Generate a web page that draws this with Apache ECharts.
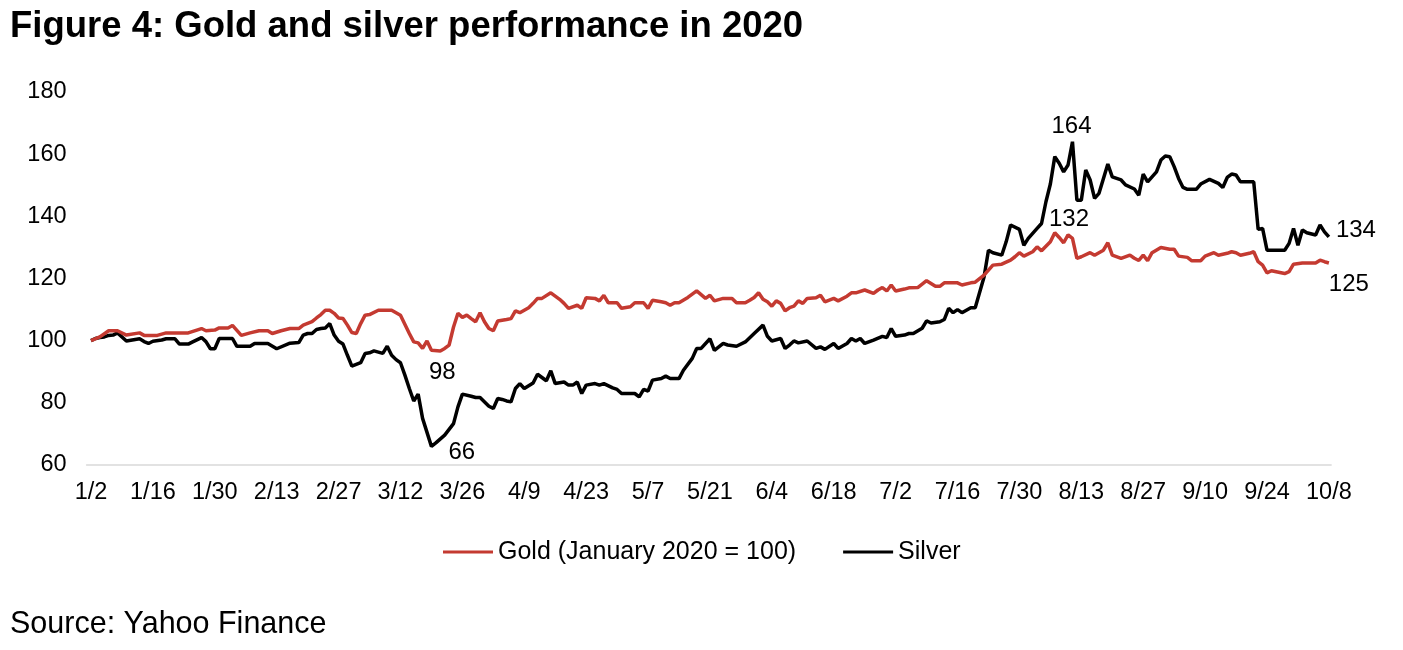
<!DOCTYPE html>
<html>
<head>
<meta charset="utf-8">
<script src="https://cdn.jsdelivr.net/npm/echarts@6/dist/echarts.min.js"></script>
<style>
html,body{margin:0;padding:0;background:#fff;}
#chart{width:1403px;height:650px;}
</style>
</head>
<body>
<div id="chart"></div>
<script>
// ---- data ----
const tickLabels = ['1/2','1/16','1/30','2/13','2/27','3/12','3/26','4/9','4/23','5/7','5/21','6/4','6/18','7/2','7/16','7/30','8/13','8/27','9/10','9/24','10/8'];

const goldDates = ['1/2','1/4','1/6','1/8','1/10','1/13','1/14','1/17','1/19','1/24','1/27','1/28','1/30','1/31','2/2','2/3','2/5','2/7','2/9','2/11','2/12','2/14','2/16','2/18','2/19','2/21','2/22','2/23','2/24','2/25','2/26','2/27','2/28','2/29','3/1','3/2','3/3','3/4','3/5','3/7','3/10','3/12','3/14','3/15','3/16','3/17','3/18','3/19','3/21','3/22','3/23','3/24','3/25','3/26','3/27','3/28','3/29','3/30','3/31','4/1','4/2','4/3','4/5','4/6','4/7','4/8','4/10','4/11','4/12','4/13','4/15','4/17','4/18','4/19','4/21','4/22','4/23','4/25','4/26','4/27','4/28','4/30','5/1','5/3','5/4','5/6','5/7','5/8','5/10','5/11','5/12','5/13','5/14','5/16','5/18','5/20','5/21','5/22','5/24','5/26','5/27','5/29','5/30','5/31','6/1','6/2','6/3','6/4','6/5','6/6','6/7','6/8','6/9','6/10','6/11','6/12','6/14','6/15','6/16','6/18','6/19','6/21','6/22','6/23','6/25','6/27','6/28','6/29','6/30','7/1','7/2','7/4','7/5','7/7','7/9','7/11','7/12','7/13','7/16','7/17','7/19','7/20','7/22','7/23','7/24','7/26','7/28','7/29','7/30','7/31','8/2','8/3','8/4','8/6','8/7','8/8','8/9','8/10','8/11','8/12','8/13','8/15','8/16','8/18','8/19','8/20','8/22','8/24','8/25','8/26','8/27','8/28','8/29','8/31','9/2','9/3','9/4','9/6','9/7','9/9','9/10','9/12','9/13','9/15','9/16','9/17','9/18','9/20','9/21','9/22','9/23','9/24','9/25','9/28','9/29','9/30','10/2','10/5','10/6','10/7','10/8'];
const goldValues = [100.0,101.2,103.2,103.2,101.8,102.5,101.7,101.7,102.5,102.5,103.9,103.2,103.4,104.1,104.1,104.9,101.7,102.5,103.2,103.2,102.3,103.2,103.9,103.9,105.0,106.1,107.3,108.4,109.8,109.8,108.8,107.3,107.1,105.0,102.6,102.3,105.5,108.2,108.4,109.8,109.8,108.2,102.3,99.6,99.3,97.5,99.9,96.9,96.7,97.5,98.6,104.4,108.8,107.5,108.2,107.1,106.1,109.0,106.1,103.9,103.2,106.3,106.8,107.1,109.6,109.0,110.6,112.0,113.6,113.6,115.4,113.3,112.0,110.4,111.4,110.4,113.8,113.6,112.8,114.6,112.2,112.2,110.4,110.9,112.2,112.2,110.4,113.0,112.5,112.2,111.4,112.2,112.2,113.9,116.0,113.6,114.6,112.8,113.6,113.6,112.2,112.2,113.0,113.9,115.4,113.3,112.5,111.1,112.8,112.0,109.6,110.6,111.1,112.8,112.0,113.6,113.8,114.6,112.5,113.6,112.8,114.3,115.4,115.4,116.3,115.2,116.3,117.1,116.0,117.9,116.0,116.6,117.0,117.1,119.3,117.5,117.5,118.6,118.6,117.9,118.6,118.8,121.1,122.7,124.3,124.6,125.9,127.0,128.3,127.2,128.6,130.2,128.9,131.8,134.7,133.2,131.5,134.0,132.9,126.5,127.0,128.3,127.5,129.1,131.5,127.5,126.5,127.5,126.5,125.8,127.5,125.7,128.3,130.0,129.4,129.4,127.2,126.8,125.7,125.7,127.2,128.3,127.5,128.1,128.6,128.3,127.5,128.1,128.6,125.4,124.3,121.8,122.5,121.6,122.2,124.6,125.0,125.0,125.9,125.4,125.0];

const silverDates = ['1/2','1/3','1/4','1/5','1/6','1/7','1/8','1/10','1/12','1/13','1/14','1/15','1/16','1/18','1/19','1/21','1/22','1/24','1/25','1/27','1/28','1/29','1/30','1/31','2/3','2/4','2/7','2/8','2/11','2/13','2/16','2/18','2/19','2/20','2/21','2/22','2/23','2/24','2/25','2/26','2/27','2/28','2/29','3/1','3/3','3/4','3/5','3/6','3/8','3/9','3/10','3/11','3/12','3/13','3/14','3/15','3/16','3/17','3/18','3/19','3/20','3/22','3/24','3/25','3/26','3/28','3/29','3/30','4/1','4/2','4/3','4/4','4/5','4/6','4/7','4/8','4/9','4/11','4/12','4/14','4/15','4/16','4/18','4/19','4/20','4/21','4/22','4/23','4/25','4/26','4/27','4/29','4/30','5/1','5/4','5/5','5/6','5/7','5/8','5/10','5/11','5/12','5/14','5/15','5/17','5/18','5/19','5/21','5/22','5/24','5/25','5/27','5/29','5/31','6/2','6/3','6/4','6/6','6/7','6/8','6/9','6/10','6/12','6/14','6/15','6/16','6/18','6/19','6/21','6/22','6/23','6/24','6/25','6/27','6/29','6/30','7/1','7/2','7/4','7/5','7/6','7/8','7/9','7/10','7/12','7/13','7/14','7/15','7/16','7/17','7/18','7/19','7/20','7/22','7/23','7/24','7/26','7/27','7/28','7/30','7/31','8/1','8/3','8/4','8/5','8/6','8/7','8/8','8/9','8/10','8/11','8/12','8/13','8/14','8/15','8/16','8/17','8/19','8/20','8/22','8/23','8/25','8/26','8/27','8/28','8/30','8/31','9/1','9/2','9/3','9/4','9/5','9/6','9/8','9/9','9/11','9/13','9/14','9/15','9/16','9/17','9/18','9/21','9/22','9/23','9/24','9/28','9/29','9/30','10/1','10/2','10/3','10/5','10/6','10/7','10/8'];
const silverValues = [100.0,100.7,101.0,101.2,101.7,101.8,102.5,99.9,100.4,100.6,99.7,99.1,99.8,100.2,100.6,100.6,98.9,98.9,99.6,101.0,99.7,97.4,97.4,100.7,100.7,98.2,98.2,99.1,99.1,97.4,99.2,99.4,101.8,102.3,102.3,103.6,103.9,104.1,105.5,101.8,99.8,98.9,95.3,91.8,92.9,95.9,96.1,96.7,95.9,98.2,95.3,93.9,92.9,88.9,84.6,80.6,82.8,75.0,70.5,66.0,67.1,69.6,73.3,78.7,82.8,82.1,81.7,81.7,78.9,78.2,81.4,81.1,80.6,80.3,84.6,86.2,84.6,86.4,89.2,87.1,90.3,86.2,86.7,85.7,85.7,86.7,83.0,85.7,86.2,85.7,86.2,84.8,84.3,83.0,83.0,81.9,84.3,83.8,87.3,87.8,88.6,87.8,87.8,90.5,94.3,97.5,97.5,100.6,96.9,99.1,98.6,98.2,99.6,102.3,105.0,101.4,99.9,100.7,97.5,98.6,99.9,99.3,99.9,97.5,98.0,97.2,99.1,97.5,99.1,100.7,99.9,100.7,99.1,100.2,101.4,101.0,103.9,101.4,101.8,102.3,102.3,104.0,106.4,105.7,106.1,106.8,110.4,109.0,110.0,109.0,109.8,110.6,110.6,120.5,129.1,128.3,127.5,131.8,137.2,135.8,130.7,132.9,136.1,137.7,144.7,150.4,159.2,157.1,154.3,156.5,164.0,145.2,145.2,154.9,151.7,145.8,147.4,156.8,152.7,151.7,150.1,148.8,146.8,153.6,151.1,154.3,158.1,159.4,159.2,156.0,152.2,149.3,148.7,148.7,150.4,151.9,150.6,149.3,152.5,153.6,153.3,151.1,151.1,135.8,136.1,129.1,129.1,131.3,136.1,130.7,135.6,134.7,134.0,137.2,135.0,133.4];

// annotated points: [date, text]
const goldNotes = [['8/10','132'],['3/21','98'],['10/8','125']];
const silverNotes = [['8/11','164'],['3/19','66'],['10/8','134']];

const goldName = 'Gold (January 2020 = 100)';
const silverName = 'Silver';

// ---- helpers ----
function toDay(s){
  const p = s.split('/').map(Number);
  return Math.round((Date.UTC(2020,p[0]-1,p[1]) - Date.UTC(2020,0,2)) / 86400000);
}
function pairs(dates, vals){ return dates.map((d,i)=>[toDay(d), vals[i]]); }
const tickDays = tickLabels.map(toDay);

const FONT = '"Liberation Sans", Arial, sans-serif';
const GOLD = '#C43A31';
const SILVER = '#000000';

// label placements (code-side styling)
const goldPlace = [
  {position:'top', distance:4, offset:[1,0]},
  {position:'bottom', distance:9, offset:[2,0]},
  {position:'bottom', distance:9, offset:[20,0]}
];
const silverPlace = [
  {position:'top', distance:3, offset:[-1,0]},
  {position:'right', distance:17, offset:[0,6]},
  {position:'right', distance:7, offset:[0,-6]}
];
function notes(list, dates, vals, place){
  return list.map((n,i)=>{
    const idx = dates.indexOf(n[0]);
    const p = place[i];
    return {
      coord:[toDay(n[0]), vals[idx]],
      symbol:'circle', symbolSize:0,
      label:{show:true, formatter:n[1], position:p.position, distance:p.distance, offset:p.offset,
             color:'#000', fontSize:24, fontFamily:FONT, lineHeight:24}
    };
  });
}

const chart = echarts.init(document.getElementById('chart'), null, {renderer:'canvas'});
chart.setOption({
  animation:false,
  backgroundColor:'#fff',
  graphic:[
    {type:'text', left:10, top:8, style:{text:'Figure 4: Gold and silver performance in 2020', font:'bold 36.5px ' + FONT, fill:'#000'}},
    {type:'text', left:10, top:609, style:{text:'Source: Yahoo Finance', font:'30.5px ' + FONT, fill:'#000'}}
  ],
  legend:{
    left:443, top:539, padding:0, itemGap:47, itemWidth:50, itemHeight:3,
    textStyle:{fontSize:25, fontFamily:FONT, color:'#000', lineHeight:26},
    data:[{name:goldName, icon:'rect'},{name:silverName, icon:'rect'}]
  },
  grid:{left:86.58, right:71.9, top:92, bottom:185},
  xAxis:{
    type:'value', min:-1, max:280.5,
    axisLine:{show:true, lineStyle:{color:'#d9d9d9', width:1.5}},
    axisTick:{show:false},
    splitLine:{show:false},
    axisLabel:{
      customValues:tickDays,
      formatter:function(v){ const i = tickDays.indexOf(Math.round(v)); return i>=0 ? tickLabels[i] : ''; },
      margin:16, color:'#000', fontSize:23.5, fontFamily:FONT
    }
  },
  yAxis:{
    type:'value', min:60, max:180, interval:20,
    axisLine:{show:false}, axisTick:{show:false}, splitLine:{show:false},
    axisLabel:{margin:20, color:'#000', fontSize:23.5, fontFamily:FONT}
  },
  series:[
    {
      name:goldName, type:'line', data:pairs(goldDates, goldValues),
      showSymbol:false, symbol:'none', lineStyle:{color:GOLD, width:3.5}, itemStyle:{color:GOLD},
      z:3,
      markPoint:{silent:true, data:notes(goldNotes, goldDates, goldValues, goldPlace)}
    },
    {
      name:silverName, type:'line', data:pairs(silverDates, silverValues),
      showSymbol:false, symbol:'none', lineStyle:{color:SILVER, width:3.5}, itemStyle:{color:SILVER},
      z:2,
      markPoint:{silent:true, data:notes(silverNotes, silverDates, silverValues, silverPlace)}
    }
  ]
});
</script>
</body>
</html>
